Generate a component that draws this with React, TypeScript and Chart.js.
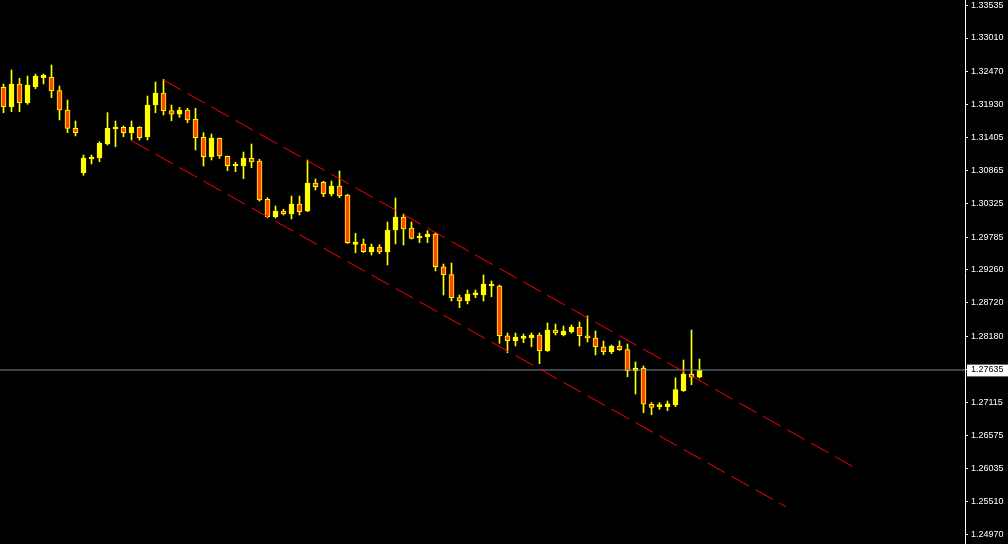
import { useEffect, useRef } from "react";
import { Chart, registerables } from "chart.js";

Chart.register(...registerables);

// GBP/USD-style candle series (oldest first)
const opens = [
  1.32212, 1.31898, 1.32265, 1.31963, 1.32222, 1.32367, 1.32374, 1.32157, 1.31844, 1.31548,
  1.30829, 1.31051, 1.31072, 1.31294, 1.31537, 1.31564, 1.31477, 1.31564, 1.31412, 1.31925,
  1.3212, 1.31833, 1.31775, 1.31844, 1.31694, 1.31402, 1.31088, 1.31386, 1.31095, 1.30938,
  1.30943, 1.31062, 1.31019, 1.30399, 1.30117, 1.30209, 1.30161, 1.30323, 1.30209, 1.30663,
  1.30674, 1.30484, 1.30614, 1.30468, 1.2967, 1.29675, 1.29545, 1.29626, 1.29545, 1.29902,
  1.30112, 1.29934, 1.29772, 1.29788, 1.29837, 1.29307, 1.29178, 1.28806, 1.28757, 1.28849,
  1.28849, 1.28995, 1.28995, 1.2819, 1.28109, 1.28148, 1.28158, 1.28202, 1.27948, 1.28283,
  1.28202, 1.2825, 1.28331, 1.2819, 1.28153, 1.28012, 1.27931, 1.28024, 1.27964, 1.27624,
  1.27667, 1.2708, 1.27041, 1.27041, 1.27068, 1.273, 1.2757, 1.27517,
];
const highs = [
  1.32265, 1.32492, 1.32358, 1.32395, 1.32427, 1.32427, 1.32573, 1.32233, 1.32006, 1.31666,
  1.31116, 1.31116, 1.31331, 1.31801, 1.31666, 1.31585, 1.31666, 1.31574, 1.32071, 1.32298,
  1.32341, 1.31925, 1.31888, 1.31872, 1.31872, 1.31477, 1.31456, 1.31391, 1.311, 1.30998,
  1.31164, 1.31294, 1.31046, 1.30425, 1.3029, 1.30237, 1.30452, 1.30452, 1.31035, 1.30727,
  1.3069, 1.30695, 1.30857, 1.3048, 1.29848, 1.29756, 1.29675, 1.29664, 1.30031, 1.3042,
  1.30161, 1.30031, 1.29853, 1.2989, 1.29858, 1.29351, 1.29367, 1.28849, 1.2893, 1.2893,
  1.29173, 1.29076, 1.29011, 1.28234, 1.28234, 1.28218, 1.28234, 1.28234, 1.28396, 1.2838,
  1.28347, 1.28364, 1.28412, 1.28509, 1.28266, 1.28105, 1.2804, 1.28105, 1.28056, 1.27765,
  1.277, 1.27106, 1.27106, 1.27133, 1.2751, 1.27797, 1.28283, 1.27813,
];
const lows = [
  1.31801, 1.31817, 1.31817, 1.31937, 1.32189, 1.32265, 1.32044, 1.31683, 1.31477, 1.31424,
  1.30787, 1.3097, 1.31007, 1.31278, 1.3125, 1.31412, 1.31359, 1.31359, 1.31359, 1.31801,
  1.31763, 1.31671, 1.31726, 1.31639, 1.31197, 1.30938, 1.31035, 1.31062, 1.30862, 1.30846,
  1.30732, 1.3091, 1.30371, 1.30101, 1.30096, 1.30144, 1.3008, 1.30144, 1.30198, 1.30549,
  1.30441, 1.30452, 1.30425, 1.29683, 1.29534, 1.29537, 1.29497, 1.29518, 1.29335, 1.29675,
  1.29659, 1.29756, 1.29696, 1.29696, 1.29238, 1.28849, 1.28752, 1.28644, 1.28704, 1.28806,
  1.28752, 1.28822, 1.28067, 1.27915, 1.28024, 1.28077, 1.28012, 1.27737, 1.27935, 1.28202,
  1.28186, 1.28234, 1.28024, 1.28088, 1.27878, 1.27883, 1.27899, 1.27951, 1.27527, 1.27246,
  1.26944, 1.26911, 1.26999, 1.26976, 1.27041, 1.27287, 1.27397, 1.27506,
];
const closes = [
  1.31898, 1.32265, 1.31963, 1.32249, 1.32395, 1.32406, 1.32157, 1.31844, 1.31548, 1.31477,
  1.31067, 1.31084, 1.31305, 1.31548, 1.31548, 1.31477, 1.31564, 1.31396, 1.31925, 1.3212,
  1.31833, 1.31775, 1.31844, 1.31683, 1.31396, 1.31088, 1.31391, 1.311, 1.30943, 1.30943,
  1.31062, 1.31003, 1.30387, 1.30117, 1.30209, 1.30161, 1.30323, 1.30198, 1.30663, 1.30603,
  1.30489, 1.30614, 1.30452, 1.29696, 1.29707, 1.2955, 1.29626, 1.29545, 1.29902, 1.30112,
  1.29918, 1.29767, 1.29805, 1.29837, 1.29307, 1.29178, 1.28806, 1.28757, 1.28865, 1.28886,
  1.29027, 1.29027, 1.2819, 1.28109, 1.28169, 1.28158, 1.28202, 1.27948, 1.28283, 1.28234,
  1.28266, 1.28331, 1.2819, 1.28153, 1.28012, 1.27931, 1.28024, 1.27964, 1.27624, 1.27667,
  1.2708, 1.27031, 1.27073, 1.27089, 1.27316, 1.2757, 1.27517, 1.27635,
];

// Price-axis labels
const priceTicks = [
  1.33535, 1.3301, 1.3247, 1.3193, 1.31405, 1.30865, 1.30325, 1.29785, 1.2926,
  1.2872, 1.2818, 1.27635, 1.27115, 1.26575, 1.26035, 1.2551, 1.2497,
];
const currentPrice = 1.27635;

// Descending channel anchors (bar index, price)
const upperChannel = [
  { x: 20, y: 1.3233 },
  { x: 106.2, y: 1.26069 },
];
const lowerChannel = [
  { x: 16, y: 1.31347 },
  { x: 97.8, y: 1.25422 },
];

const BULL = "#FFFF00";
const BEAR = "#FF4500";
const CHANNEL = "#FF0000";
const BID_LINE = "#778899";

export default function App() {
  const canvasRef = useRef<HTMLCanvasElement | null>(null);

  useEffect(() => {
    document.body.style.margin = "0";
    document.body.style.background = "#000";
    const canvas = canvasRef.current;
    if (!canvas) return;

    const axisWidth = 43;
    const plotWidth = 1008 - axisWidth;
    const barSpacing = 8;
    const xMin = -0.4375;
    const xMax = xMin + plotWidth / barSpacing;
    const idx = opens.map((_, i) => i);

    const chart = new Chart(canvas, {
      type: "bar",
      data: {
        datasets: [
          {
            type: "line",
            label: "upper",
            data: upperChannel,
            borderColor: CHANNEL,
            borderWidth: 1,
            borderDash: [20, 7.5],
            pointRadius: 0,
            order: 0,
          },
          {
            type: "line",
            label: "lower",
            data: lowerChannel,
            borderColor: CHANNEL,
            borderWidth: 1,
            borderDash: [20, 7.5],
            pointRadius: 0,
            order: 0,
          },
          {
            type: "line",
            label: "bid",
            data: [
              { x: xMin, y: currentPrice },
              { x: xMax, y: currentPrice },
            ],
            borderColor: BID_LINE,
            borderWidth: 1,
            pointRadius: 0,
            order: 0,
          },
          {
            type: "bar",
            label: "body",
            data: idx.map((i) => ({ x: i, y: [opens[i], closes[i]] })) as any,
            backgroundColor: idx.map((i) => (closes[i] >= opens[i] ? BULL : BEAR)),
            borderColor: BULL,
            borderWidth: 1,
            borderSkipped: false,
            barThickness: 5,
            minBarLength: 2,
            grouped: false,
            order: 1,
          },
          {
            type: "bar",
            label: "wick",
            data: idx.map((i) => ({ x: i, y: [lows[i], highs[i]] })) as any,
            backgroundColor: BULL,
            borderWidth: 0,
            barThickness: 1,
            grouped: false,
            order: 2,
          },
        ],
      },
      options: {
        animation: false,
        responsive: false,
        layout: { padding: 0 },
        plugins: { legend: { display: false }, tooltip: { enabled: false } },
        scales: {
          x: {
            type: "linear",
            min: xMin,
            max: xMax,
            offset: false,
            display: false,
          },
          y: {
            type: "linear",
            position: "right",
            min: 1.248179,
            max: 1.336253,
            afterBuildTicks: (scale: any) => {
              scale.ticks = priceTicks.map((v) => ({ value: v }));
            },
            afterFit: (scale: any) => {
              scale.width = axisWidth;
              scale.paddingTop = 0;
              scale.paddingBottom = 0;
            },
            border: { display: true, color: "#FFFFFF", width: 1 },
            grid: {
              drawOnChartArea: false,
              drawTicks: true,
              tickLength: 3,
              color: "#FFFFFF",
            },
            ticks: {
              autoSkip: false,
              padding: 3,
              font: { family: "Liberation Sans", size: 9 },
              color: (ctx: any) => (ctx.tick && ctx.tick.value === currentPrice ? "#000000" : "#FFFFFF"),
              showLabelBackdrop: (ctx: any) => !!(ctx.tick && ctx.tick.value === currentPrice),
              backdropColor: "#FFFFFF",
              backdropPadding: { top: 0, bottom: 1, left: 4, right: 8 },
              callback: (v: any) => Number(v).toFixed(5),
            },
          },
        },
      } as any,
    });

    return () => chart.destroy();
  }, []);

  return (
    <div style={{ position: "fixed", left: 0, top: 0, width: 1008, height: 544, background: "#000" }}>
      <canvas ref={canvasRef} width={1008} height={544} style={{ display: "block" }} />
    </div>
  );
}
